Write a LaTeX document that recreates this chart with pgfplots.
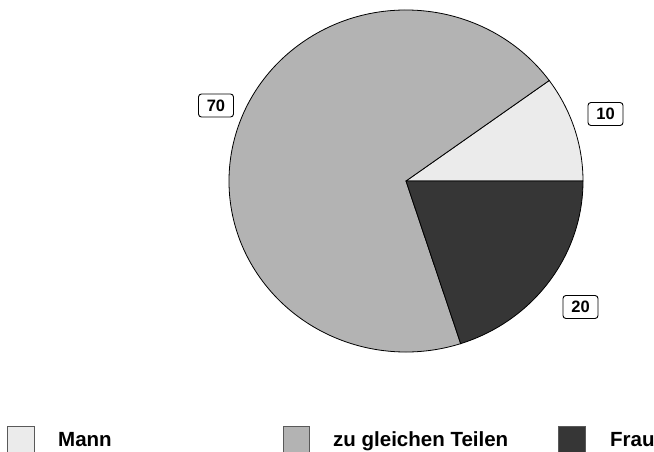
\documentclass[border=0pt]{standalone}
\usepackage{pgfplots}
\pgfplotsset{compat=1.18}
\usepackage{pgfplotstable}
\usepackage{fontspec}
\setmainfont{Liberation Sans}
\definecolor{cMann}{HTML}{EBEBEB}
\definecolor{cGleich}{HTML}{B3B3B3}
\definecolor{cFrau}{HTML}{363636}
\pgfplotstableread{
name value
Mann 10
Gleich 70
Frau 20
}\piedata
\begin{document}
\begin{tikzpicture}[x=1pt,y=1pt]
\pgfplotstablegetelem{0}{value}\of\piedata \edef\va{\pgfplotsretval}
\pgfplotstablegetelem{1}{value}\of\piedata \edef\vb{\pgfplotsretval}
\pgfplotstablegetelem{2}{value}\of\piedata \edef\vc{\pgfplotsretval}
\pgfmathsetmacro\aA{3.6*\va}
\pgfmathsetmacro\aB{\aA+3.6*\vb}
\pgfmathsetmacro\aC{\aB+3.6*\vc}
\begin{axis}[at={(0,0)}, anchor=south west, width=654pt, height=451pt,
  scale only axis, xmin=0, xmax=654, ymin=0, ymax=451, hide axis, clip=false]
\filldraw[fill=cMann, draw=black, line width=0.8pt] (axis cs:406,270) -- ++(0:177pt and 171pt)
  arc[start angle=0, end angle=\aA, x radius=177pt, y radius=171pt] -- cycle;
\filldraw[fill=cGleich, draw=black, line width=0.8pt] (axis cs:406,270) -- ++(\aA:177pt and 171pt)
  arc[start angle=\aA, end angle=\aB, x radius=177pt, y radius=171pt] -- cycle;
\filldraw[fill=cFrau, draw=black, line width=0.8pt] (axis cs:406,270) -- ++(\aB:177pt and 171pt)
  arc[start angle=\aB, end angle=\aC, x radius=177pt, y radius=171pt] -- cycle;
\tikzset{lab/.style={draw=black, line width=0.9pt, rounded corners=3pt, fill=white,
  minimum width=35pt, minimum height=23pt, inner sep=1pt, font=\fontsize{16.5}{16.5}\selectfont\bfseries}}
\node[lab] at (axis cs:216,345.5) {\vb};
\node[lab] at (axis cs:605.5,337) {\va};
\node[lab] at (axis cs:580.5,144) {\vc};
\tikzset{leg/.style={draw=black!65, line width=0.9pt},
  legt/.style={anchor=base west, inner sep=0pt, font=\fontsize{20.5}{20.5}\selectfont\bfseries}}
\filldraw[leg, fill=cMann] (axis cs:7.5,-5) rectangle (axis cs:34,25);
\node[legt] at (axis cs:58,5) {Mann};
\filldraw[leg, fill=cGleich] (axis cs:283.5,-5) rectangle (axis cs:309,25);
\node[legt] at (axis cs:333,5) {zu gleichen Teilen};
\filldraw[leg, fill=cFrau] (axis cs:558.5,-5) rectangle (axis cs:585,25);
\node[legt] at (axis cs:610,5) {Frau};
\end{axis}
\pgfresetboundingbox
\path (0,0) rectangle (654,451);
\end{tikzpicture}
\end{document}
